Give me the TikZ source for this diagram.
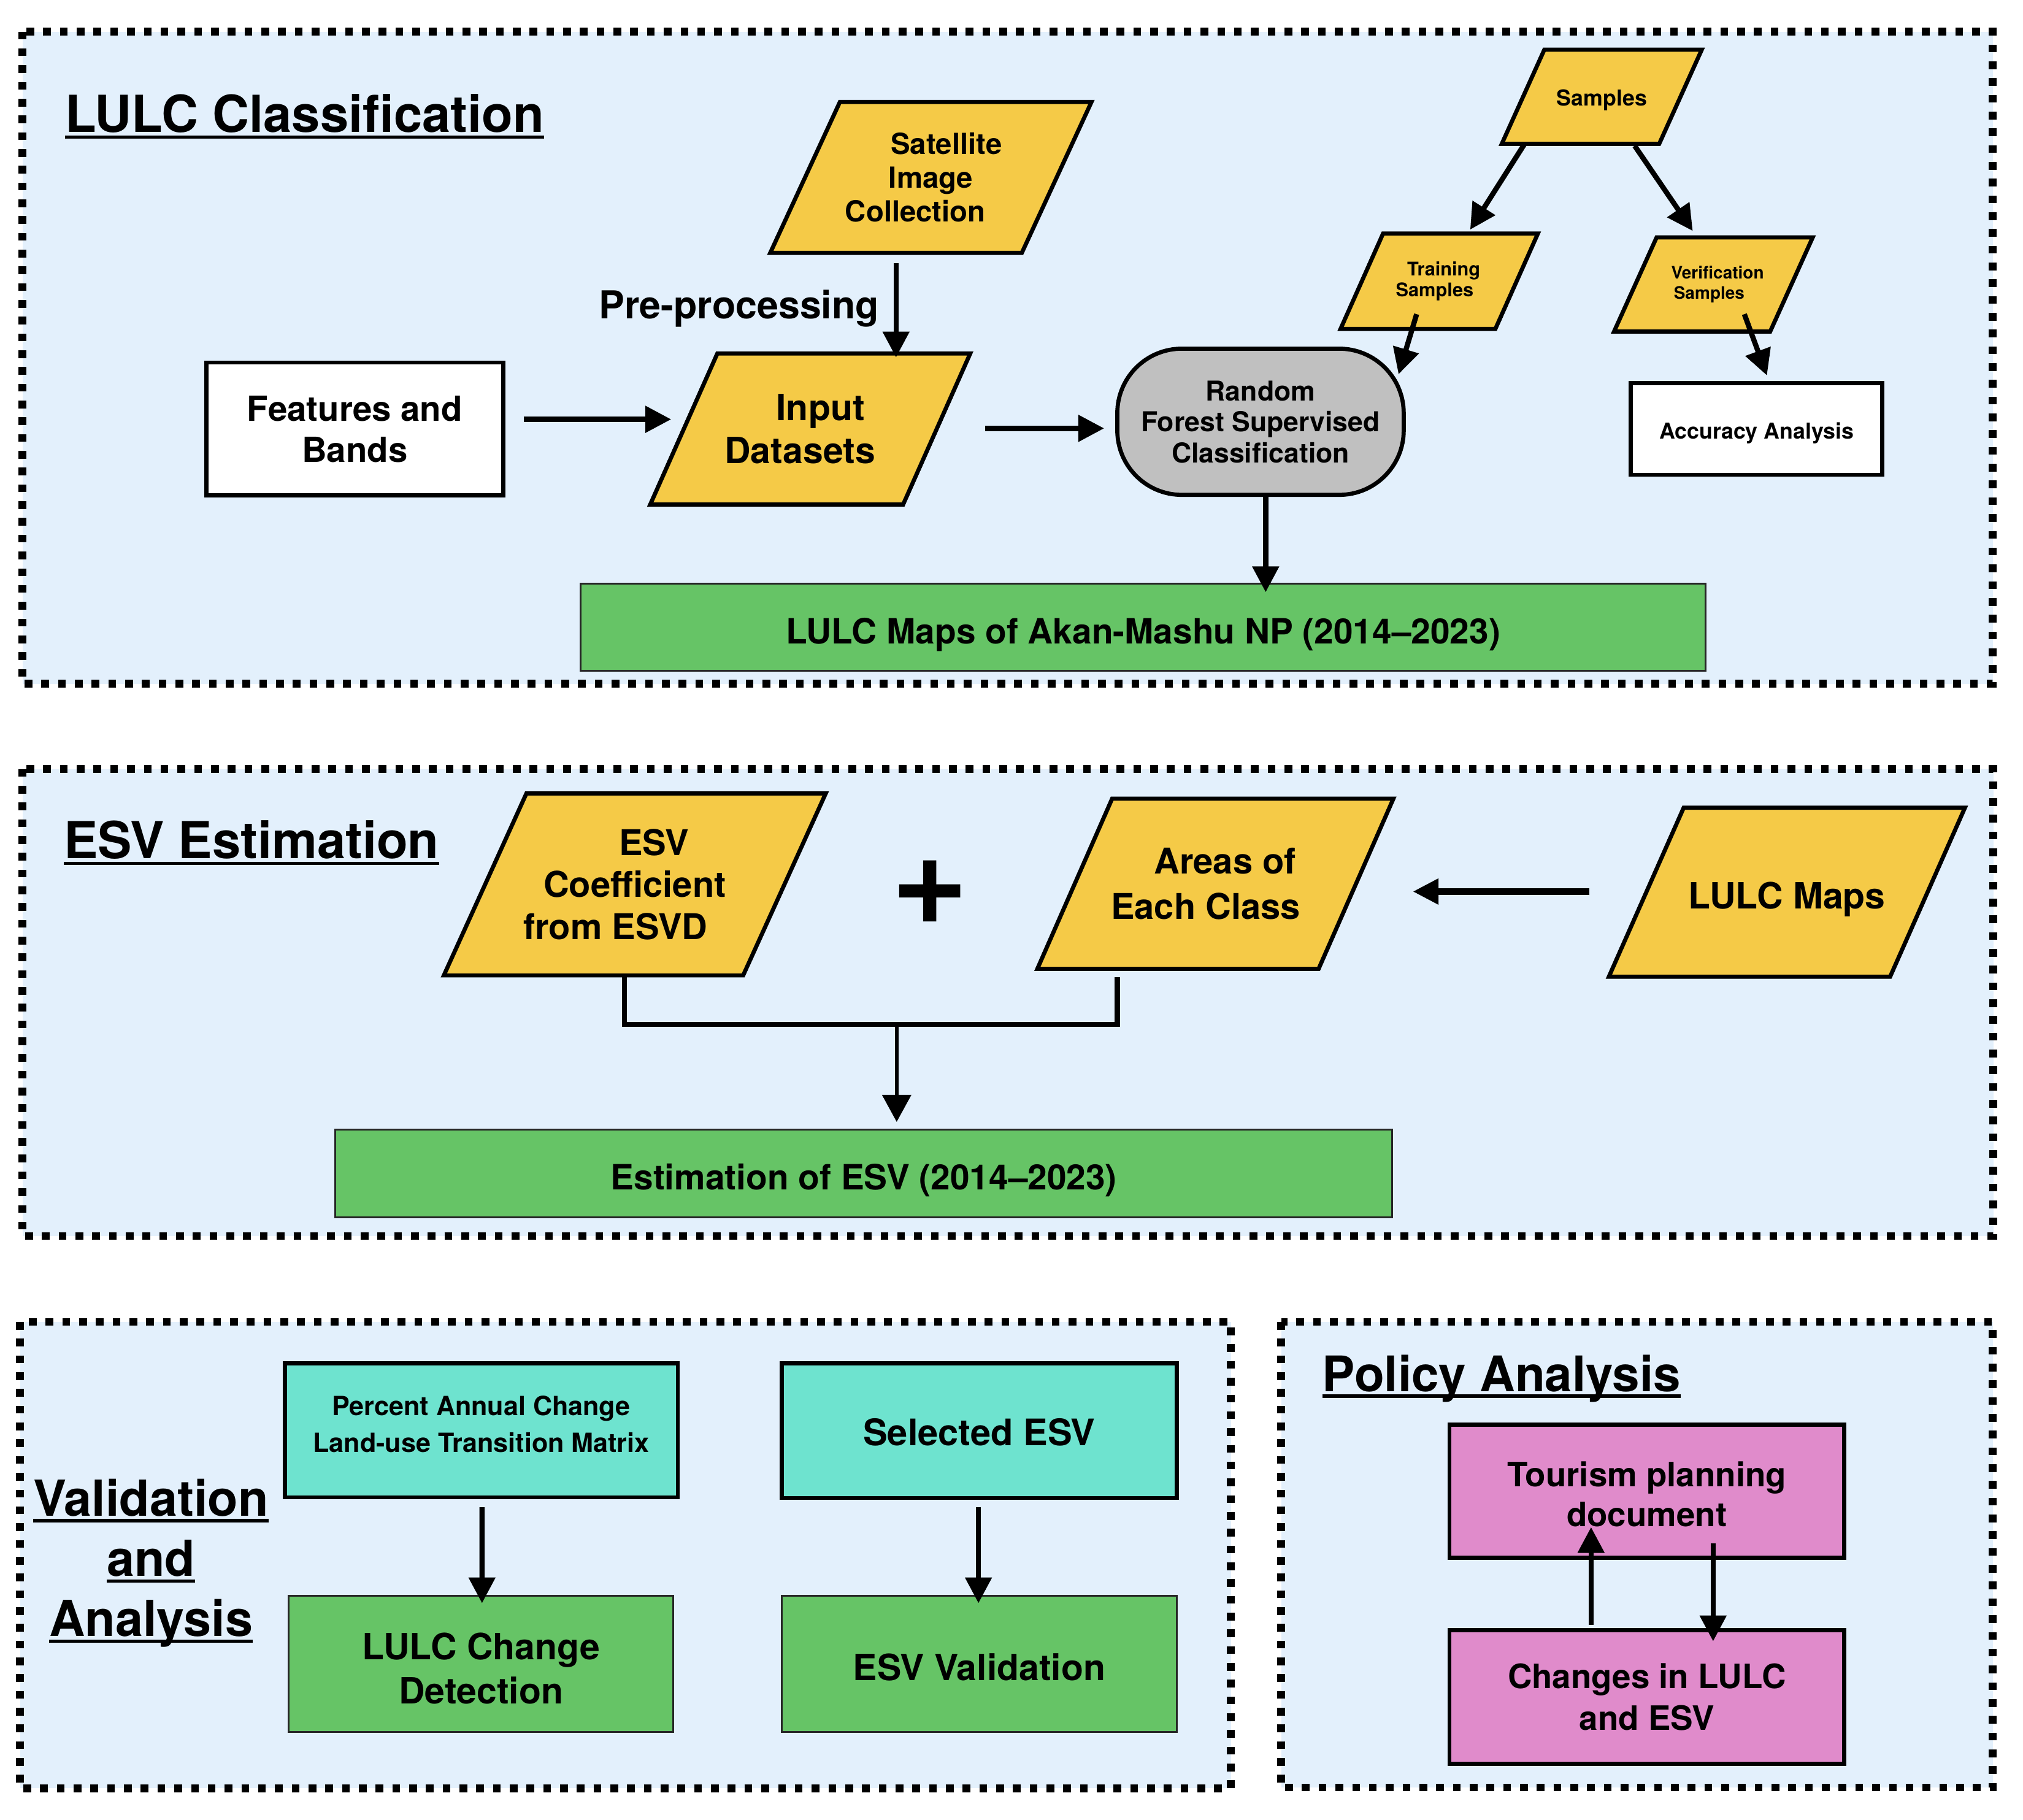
\documentclass[tikz,border=0pt]{standalone}
\usepackage{fontspec}
\setmainfont{TeX Gyre Heros}
\usetikzlibrary{arrows.meta}
\definecolor{secbg}{HTML}{E3F0FC}
\definecolor{pyellow}{HTML}{F5CA47}
\definecolor{rfgray}{HTML}{C0C0C0}
\definecolor{lgreen}{HTML}{66C466}
\definecolor{lteal}{HTML}{6EE3CF}
\definecolor{lpink}{HTML}{E08BCB}
\newlength\ulw
\newcommand\ttl[1]{\settowidth{\ulw}{#1}\makebox[0pt][l]{\rule[-5pt]{\ulw}{2.6pt}}#1}
\newcommand\fs[2]{\fontsize{#1}{#2}\selectfont\bfseries}
\newcommand\parashape[6]{%
  \path[#1] ({#2-#4/2+#6},{#3-#5/2}) -- ({#2+#4/2},{#3-#5/2}) -- ({#2+#4/2-#6},{#3+#5/2}) -- ({#2-#4/2},{#3+#5/2}) -- cycle;}
\tikzset{
  section/.style={draw=black, line width=6pt, dash pattern=on 6pt off 7pt, fill=secbg},
  parafill/.style={draw=black, line width=3.2pt, fill=pyellow},
  pnode/.style={inner sep=0pt, outer sep=0pt, align=center},
  box/.style={draw=black, line width=3.2pt, inner sep=0pt, outer sep=0pt, align=center},
  whitebox/.style={box, fill=white},
  tealbox/.style={box, fill=lteal},
  pinkbox/.style={box, fill=lpink},
  greenbox/.style={draw=black!85, line width=1.4pt, fill=lgreen, inner sep=0pt, outer sep=0pt, align=center},
  title/.style={inner sep=0pt, outer sep=0pt, font=\fs{38.5}{46.8}},
  arr/.style={line width=4pt, -{Triangle[length=20pt,width=20pt]}},
  arrthin/.style={line width=3pt, -{Triangle[length=21pt,width=22pt]}},
  bracketline/.style={line width=4pt}
}
\begin{document}
\begin{tikzpicture}[x=1pt, y=-1pt]
\useasboundingbox (0,0) rectangle (1568,1410.2);
\fill[white] (0,0) rectangle (1568,1410.2);

% ---------- sections ----------
\draw[section] (17.5,24.5) rectangle (1544.5,530);
\draw[section] (17.5,596) rectangle (1545,958);
\draw[section] (15.5,1024.6) rectangle (954,1386);
\draw[section] (993,1024.6) rectangle (1544.5,1385.5);

% ---------- LULC Classification ----------
\node[title, font=\fs{39.5}{46.8}, anchor=base west] (t1) at (50.5,102.5) {\ttl{LULC Classification}};

\parashape{parafill}{721.5}{137.5}{249}{117}{54}
\node[pnode, minimum width=249pt, minimum height=117pt, font=\fs{22.5}{26}] (sat) at (721.5,137.5)
  {\rule{24pt}{0pt}Satellite\\Image\\Collection\rule{24pt}{0pt}};

\parashape{parafill}{628}{332.5}{248}{117}{52}
\node[pnode, minimum width=248pt, minimum height=117pt, font=\fs{28}{33}] (inp) at (628,332.5)
  {\rule{16pt}{0pt}Input\\Datasets\rule{16pt}{0pt}};

\node[whitebox, minimum width=230pt, minimum height=103pt, font=\fs{26.8}{32}] (feat) at (275,332.5)
  {Features and\\Bands};

\node[font=\fs{29.8}{29.8}, anchor=base west, inner sep=0pt] (prep) at (464,246.8) {Pre-processing};

\node[box, fill=rfgray, rounded corners=50pt, minimum width=222pt, minimum height=113.3pt, font=\fs{21.2}{24}] (rf) at (977,326.9)
  {Random\\Forest Supervised\\Classification};

\parashape{parafill}{1241.5}{75}{155}{73}{33}
\node[pnode, minimum width=155pt, minimum height=73pt, font=\fs{17}{20}, text height=14.2pt, text depth=0pt] (samp) at (1241.5,75) {Samples};

\parashape{parafill}{1115.5}{218}{153}{74}{33}
\node[pnode, minimum width=153pt, minimum height=74pt, font=\fs{14.6}{16}] (train) at (1115.5,218)
  {\rule{7pt}{0pt}Training\\Samples\rule{7pt}{0pt}};

\parashape{parafill}{1328}{220.5}{154}{73}{33}
\node[pnode, minimum width=154pt, minimum height=73pt, font=\fs{13.3}{16}] (verif) at (1328,220.5)
  {\rule{6.5pt}{0pt}Verification\\Samples\rule{6.5pt}{0pt}};

\node[whitebox, minimum width=195pt, minimum height=71pt, font=\fs{17}{20}, text height=15.2pt, text depth=0pt] (acc) at (1361.5,332.5) {Accuracy Analysis};

\node[greenbox, minimum width=872pt, minimum height=67.4pt, font=\fs{27}{30}, text height=25.6pt, text depth=0pt] (lulc) at (886,486.1)
  {LULC Maps of Akan-Mashu NP (2014–2023)};

\draw[arr] ([xshift=16pt,yshift=7.5pt]feat.east) -- ([xshift=16.2pt,yshift=7.5pt]inp.west);
\draw[arr] ([xshift=-27pt,yshift=-8pt]sat.south) -- ([xshift=66.5pt,yshift=-3pt]inp.north);
\draw[arr] ([xshift=11.6pt,yshift=0.5pt]inp.east) -- ([xshift=-10.2pt,yshift=-5.1pt]rf.west);
\draw[arr] ([xshift=-59.5pt,yshift=0.5pt]samp.south) -- ([xshift=24pt,yshift=3pt]train.north);
\draw[arr] ([xshift=25.5pt,yshift=-1.5pt]samp.south) -- ([xshift=-16pt,yshift=5pt]verif.north);
\draw[arr] ([xshift=-17.5pt,yshift=11.5pt]train.south) -- ([xshift=-4pt,yshift=-19.8pt]rf.north east);
\draw[arr] ([xshift=24pt,yshift=13.5pt]verif.south) -- ([xshift=8pt,yshift=6pt]acc.north);
\draw[arr] ([xshift=4pt]rf.south) -- ([xshift=95pt,yshift=-6.6pt]lulc.north);

% ---------- ESV Estimation ----------
\node[title, font=\fs{39.5}{46.8}, anchor=base west] (t2) at (49.5,665.6) {\ttl{ESV Estimation}};

\parashape{parafill}{492}{685.5}{296}{141}{64}
\node[pnode, minimum width=296pt, minimum height=141pt, font=\fs{27.5}{32.5}] (esvc) at (492,685.5)
  {\rule{30pt}{0pt}ESV\\Coefficient\\from ESVD\rule{30pt}{0pt}};

\node[inner sep=0pt, font=\fontsize{102}{102}\selectfont] (plus) at (721,691.5) {\textbf{+}};

\parashape{parafill}{942}{685}{276}{132}{58}
\node[pnode, minimum width=276pt, minimum height=132pt, font=\fs{27.5}{35}] (areas) at (942,685)
  {\rule{15pt}{0pt}Areas of\\Each Class\rule{15pt}{0pt}};

\parashape{parafill}{1385}{691.5}{276}{131}{58}
\node[pnode, minimum width=276pt, minimum height=131pt, font=\fs{28}{32}, text height=25.5pt, text depth=0pt] (lmaps) at (1385,691.5) {LULC Maps};

\node[greenbox, minimum width=819pt, minimum height=68.1pt, font=\fs{27}{30}, text height=25.4pt, text depth=0pt] (est) at (669.5,909.35)
  {Estimation of ESV (2014–2023)};

\draw[line width=5pt, -{Triangle[length=20pt,width=19pt]}] ([xshift=-15pt,yshift=0.5pt]lmaps.west) -- ([xshift=15pt,yshift=-6pt]areas.east);
\coordinate (join) at (695,794);
\draw[bracketline] ([xshift=-8pt,yshift=-1.6pt]esvc.south) |- (join) -| ([xshift=-76pt,yshift=-6.6pt]areas.south);
\draw[arrthin] (join) -- ([xshift=25.5pt,yshift=5.7pt]est.north);

% ---------- Validation and Analysis ----------
\node[title, align=center] (t3) at (117,1211.5) {\ttl{Validation}\\\ttl{and}\\\ttl{Analysis}};

\node[tealbox, minimum width=304.6pt, minimum height=103.9pt, font=\fs{20.5}{28.5}] (pct) at (373,1108.55)
  {Percent Annual Change\\Land-use Transition Matrix\rule[-9.4pt]{0pt}{9.4pt}};
\node[tealbox, minimum width=306pt, minimum height=104.4pt, font=\fs{28.3}{32}, text height=23.5pt, text depth=0pt] (sel) at (759,1108.8) {Selected ESV};
\node[greenbox, minimum width=298.2pt, minimum height=105.6pt, font=\fs{28}{34}] (chg) at (372.9,1289.8)
  {\rule{0pt}{27.4pt}LULC Change\\Detection};
\node[greenbox, minimum width=306pt, minimum height=105.6pt, font=\fs{28}{32}, text height=25.1pt, text depth=0pt] (val) at (759,1289.8) {ESV Validation};

\draw[arr] ([xshift=0.6pt,yshift=-7.7pt]pct.south) -- ([xshift=0.7pt,yshift=-5.6pt]chg.north);
\draw[arr] ([xshift=-0.6pt,yshift=-7pt]sel.south) -- ([xshift=-0.6pt,yshift=-5.6pt]val.north);

% ---------- Policy Analysis ----------
\node[title, font=\fs{38}{46.8}, anchor=base west] (t4) at (1025,1078.4) {\ttl{Policy Analysis}};

\node[pinkbox, minimum width=306.1pt, minimum height=103.4pt, font=\fs{26}{31}] (tour) at (1276.45,1155.8)
  {\rule{0pt}{24pt}Tourism planning\\document};
\node[pinkbox, minimum width=306.1pt, minimum height=103.4pt, font=\fs{26}{32}] (chgs) at (1276.45,1315.3)
  {Changes in LULC\\and ESV};

\draw[arr] ([xshift=-43.25pt,yshift=4.3pt]chgs.north) -- ([xshift=-43.25pt,yshift=23.9pt]tour.south);
\draw[arr] ([xshift=51.35pt,yshift=11.1pt]tour.south) -- ([xshift=51.35pt,yshift=-8.5pt]chgs.north);
\end{tikzpicture}
\end{document}
